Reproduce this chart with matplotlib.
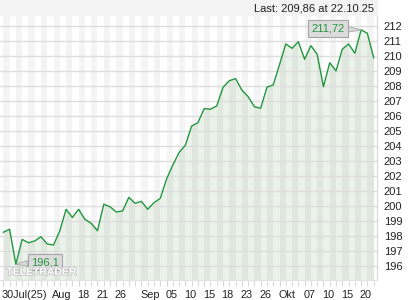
import matplotlib
matplotlib.use("Agg")
import matplotlib.pyplot as plt
import matplotlib.patheffects as pe
import matplotlib.transforms as mtrans
from matplotlib.ticker import FixedLocator, MultipleLocator

# daily closes, 30 Jul 2025 .. 22 Oct 2025
closes = [198.23, 198.43, 196.10, 197.76, 197.53, 197.65, 197.93, 197.45, 197.38, 198.33,
          199.76, 199.22, 199.76, 199.09, 198.83, 198.33, 200.10, 199.93, 199.58, 199.65,
          200.56, 200.16, 200.29, 199.76, 200.20, 200.49, 201.77, 202.71, 203.55, 204.03,
          205.31, 205.53, 206.47, 206.43, 206.65, 207.89, 208.33, 208.47, 207.71, 207.27,
          206.60, 206.49, 207.90, 208.05, 209.40, 210.78, 210.49, 210.93, 209.76, 210.67,
          210.09, 207.93, 209.53, 208.98, 210.43, 210.78, 210.16, 211.72, 211.49, 209.86]
label_idx = [0, 8, 12, 15, 18, 22, 26, 29, 32, 35, 38, 41, 44, 48, 51, 54, 57]
label_txt = ["30Jul(25)", "Aug", "18", "21", "26", "Sep", "05", "10", "15", "18", "23",
             "26", "Okt", "07", "10", "15", "20"]
y_ticks = list(range(196, 213))
last_text = "Last: 209,86 at 22.10.25"
hi_text, lo_text = "211,72", "196,1"

LINE = "#22963f"
plt.rcParams["font.family"] = ["Liberation Sans", "DejaVu Sans"]

fig = plt.figure(figsize=(4.2, 3.0), dpi=100, facecolor="white")
# light grey header band
fig.patches.append(plt.Rectangle((0, 0.95), 0.8976, 0.05, transform=fig.transFigure,
                                 color="#f3f3f3", zorder=0))
ax = fig.add_axes([0.0, 0.0667, 0.8976, 0.8833])
ax.set_facecolor("white")

n = len(closes)
x = list(range(n))
ymin, ymax = 195.05, 212.71
ax.set_xlim(-0.53, n - 1 + 0.53)
ax.set_ylim(ymin, ymax)

ax.fill_between(x, closes, ymin, color="#ebf2e9", lw=0, zorder=1)
# alternating day stripes
for i in range(0, n - 1, 2):
    ax.axvspan(i, i + 1, color="black", alpha=0.045, lw=0, zorder=2)
for v in y_ticks:
    ax.axhline(v, color="#dedede", lw=1, zorder=3)
ax.plot(x, closes, color=LINE, lw=1.0, zorder=5)

# high / low callouts
imax = closes.index(max(closes))
imin = closes.index(min(closes))
box = dict(boxstyle="square,pad=0.3", fc="#dcdcdc", ec="#a5a5a5", lw=0.8)
wedge = dict(arrowstyle="wedge,tail_width=0.5", fc="#dcdcdc", ec="#a5a5a5", lw=0.6,
             shrinkA=0, shrinkB=0)
ax.annotate(hi_text, (imax, closes[imax]), xytext=(-24, 1), textcoords="offset points",
            ha="center", va="center", fontsize=8, color=LINE, bbox=box, arrowprops=wedge,
            zorder=6)
ax.annotate(lo_text, (imin, closes[imin]), xytext=(21, 1.5), textcoords="offset points",
            ha="center", va="center", fontsize=8, color=LINE, bbox=box, arrowprops=wedge,
            zorder=6)
# faint watermark
ax.text(0.11, 0.012, "TELETRADER", transform=ax.transAxes, fontsize=7.5, fontweight="bold",
        color="white", ha="center", va="bottom", zorder=7,
        path_effects=[pe.withStroke(linewidth=1.2, foreground="#c4c4c4")])

# axes styling
for s in ("top", "left"):
    ax.spines[s].set_visible(False)
ax.spines["right"].set_color("#d8d8d8")
ax.spines["bottom"].set_color("#e4e4e4")
ax.yaxis.tick_right()
ax.set_yticks(y_ticks)
ax.tick_params(axis="y", length=0, pad=5, labelsize=8, labelcolor="#222222")
ax.xaxis.set_major_locator(FixedLocator(label_idx))
ax.xaxis.set_minor_locator(MultipleLocator(1))
ax.set_xticklabels(label_txt, ha="left")
ax.tick_params(axis="x", which="both", direction="out", length=4, color="#d4d4d4",
               pad=3, labelsize=7.8, labelcolor="#222222")
off = mtrans.ScaledTranslation(-1.0 / 72, 0, fig.dpi_scale_trans)
for t in ax.get_xticklabels():
    t.set_transform(t.get_transform() + off)

fig.text(0.89, 0.973, last_text, ha="right", va="center", fontsize=8, color="#222222")

fig.savefig("out.png", dpi=100)
